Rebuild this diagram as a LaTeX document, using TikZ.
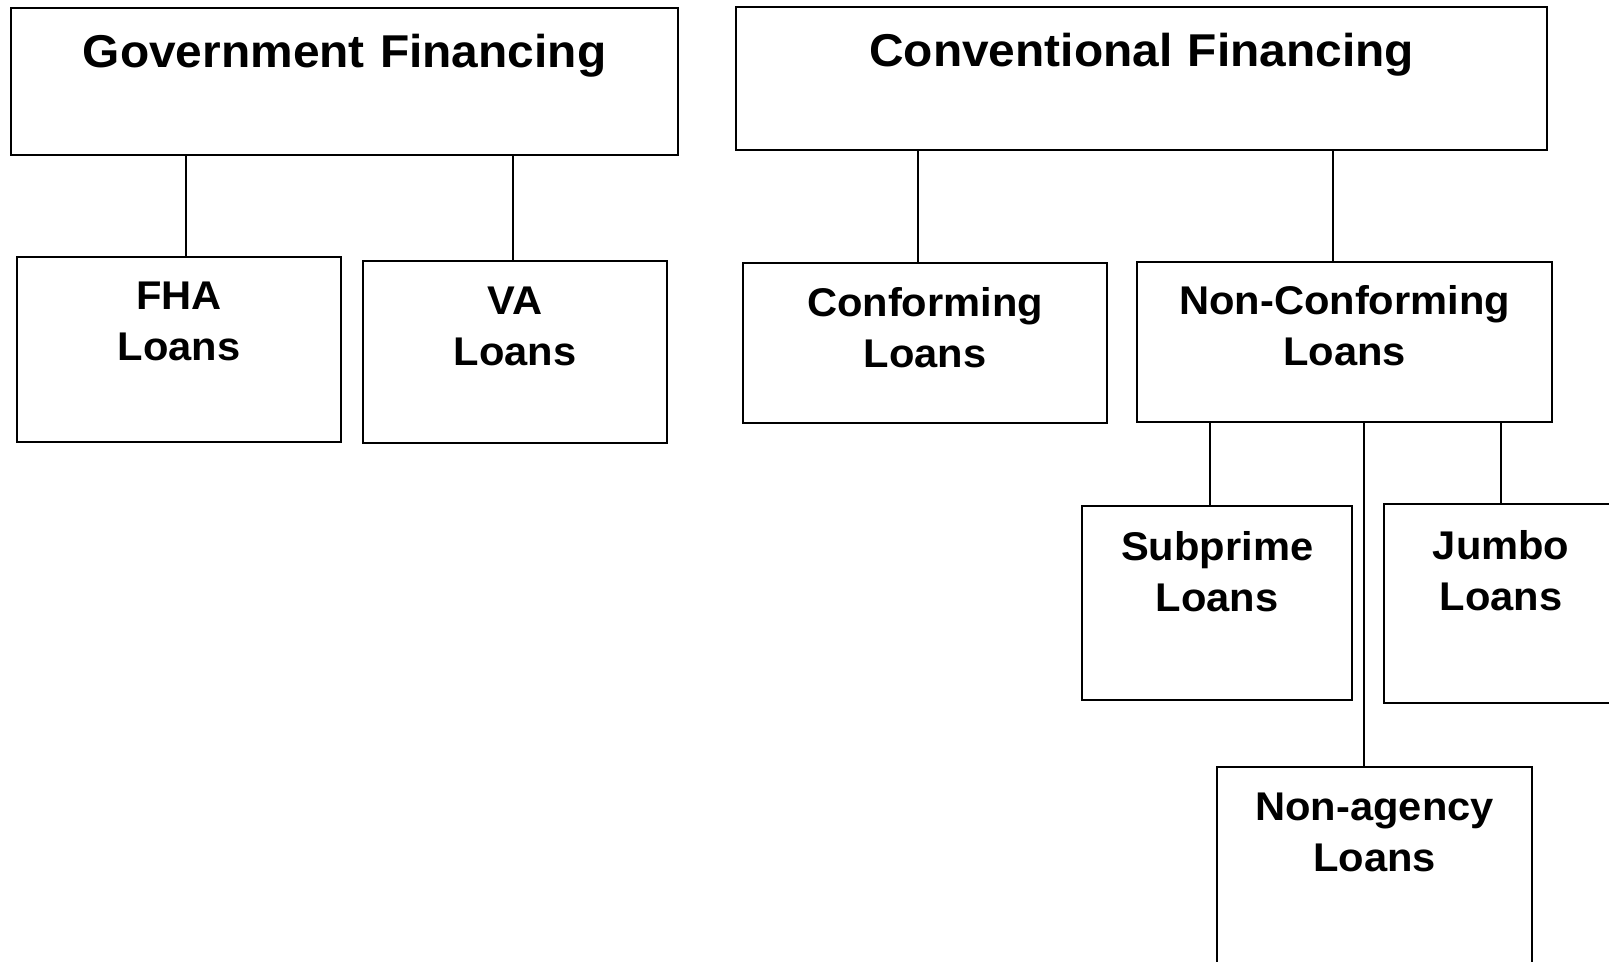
\documentclass[tikz,border=0pt]{standalone}
\usepackage{fontspec}
\setmainfont{Liberation Sans}[FakeStretch=1.04]
\usepackage{tikz}
\usetikzlibrary{positioning}
\newcommand{\headfont}{\fontsize{26.2}{30}\selectfont\bfseries}
\newcommand{\loanfont}{\fontsize{22.8}{29}\selectfont\bfseries}
\tikzset{
  headbox/.style={draw, line width=1.3pt, inner sep=0pt, align=center, anchor=north west, font=\headfont},
  loanbox/.style={draw, line width=1.3pt, inner sep=0pt, align=center, anchor=north west, font=\loanfont},
  tie/.style={line width=1.3pt}
}
\begin{document}
\begin{tikzpicture}[x=0.02cm, y=-0.02cm]
  \useasboundingbox (0,0) rectangle (1609,961);
  \clip (0,0) rectangle (1609,961);
  % top level
  \node[headbox, text width=13.34cm, text height=1.18cm, text depth=1.76cm] (gov) at (10,7) {Government Financing};
  \node[headbox, text width=16.22cm, text height=1.18cm, text depth=1.68cm] (conv) at (735,6) {Conventional Financing};
  % second level
  \node[loanbox, text width=6.48cm, text height=1.04cm, text depth=2.66cm] (fha) at (16,256) {FHA\\Loans};
  \node[loanbox, text width=6.08cm, text height=1.06cm, text depth=2.58cm] (va) at (362,260) {VA\\Loans};
  \node[loanbox, text width=7.28cm, text height=1.06cm, text depth=2.14cm] (conf) at (742,262) {Conforming\\Loans};
  \node[loanbox, text width=8.30cm, text height=1.04cm, text depth=2.16cm] (nonconf) at (1136,261) {Non-Conforming\\Loans};
  % third level
  \node[loanbox, text width=5.40cm, text height=1.08cm, text depth=2.80cm] (sub) at (1081,505) {Subprime\\Loans};
  \node[loanbox, text width=4.68cm, text height=1.10cm, text depth=2.88cm] (jumbo) at (1383,503) {Jumbo\\Loans};
  \node[loanbox, text width=6.30cm, text height=1.06cm, text depth=2.94cm] (nonag) at (1216,766) {Non-agency\\Loans};
  % connectors
  \draw[tie] ([xshift=0.14cm]fha.north |- gov.south) -- ([xshift=0.14cm]fha.north);
  \draw[tie] ([xshift=-0.04cm]va.north |- gov.south) -- ([xshift=-0.04cm]va.north);
  \draw[tie] ([xshift=-0.14cm]conf.north |- conv.south) -- ([xshift=-0.14cm]conf.north);
  \draw[tie] ([xshift=-0.23cm]nonconf.north |- conv.south) -- ([xshift=-0.23cm]nonconf.north);
  \draw[tie] ([xshift=-0.14cm]sub.north |- nonconf.south) -- ([xshift=-0.14cm]sub.north);
  \draw[tie] ([xshift=-0.21cm]nonag.north |- nonconf.south) -- ([xshift=-0.21cm]nonag.north);
  \draw[tie] (jumbo.north |- nonconf.south) -- (jumbo.north);
\end{tikzpicture}
\end{document}
